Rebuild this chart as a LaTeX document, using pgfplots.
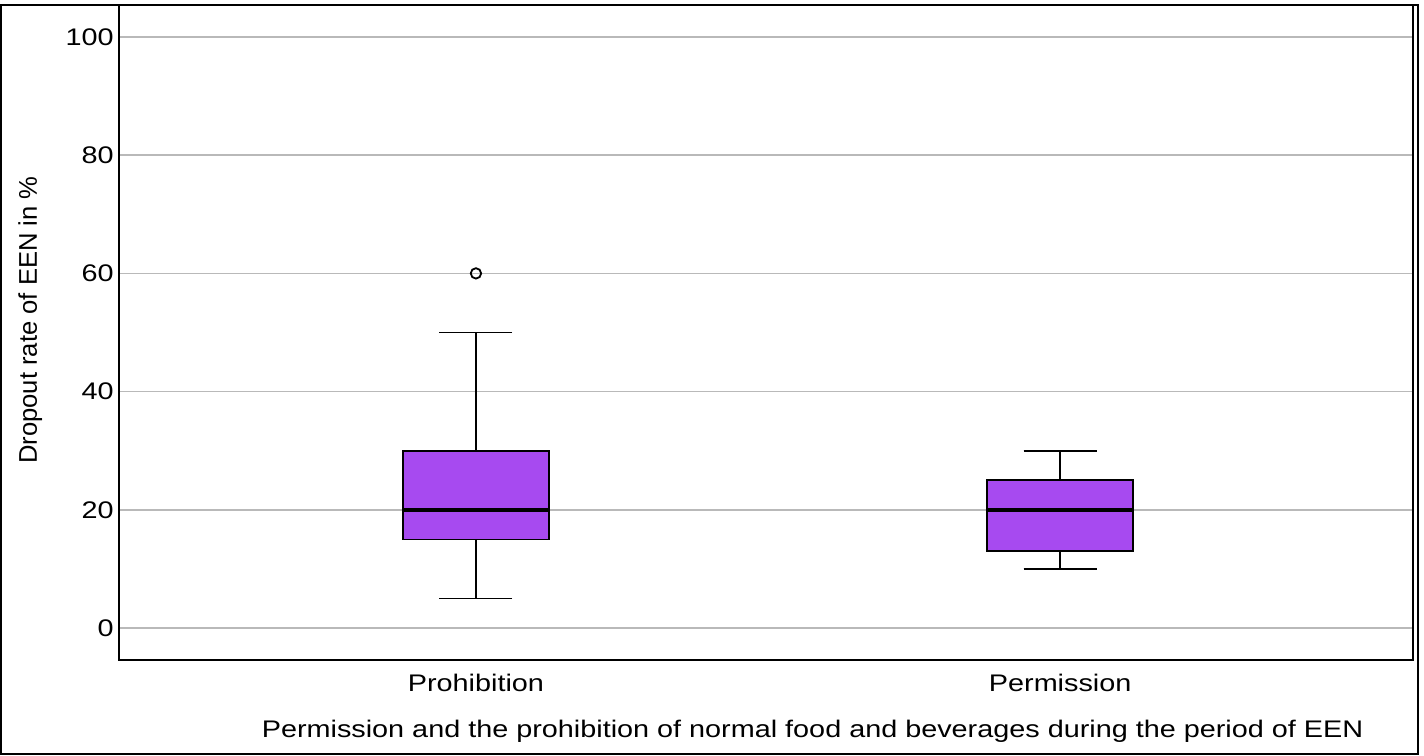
\documentclass[border=0pt]{standalone}
\usepackage{fontspec}
\setmainfont[FakeStretch=1.2]{Liberation Sans}
\newfontfamily\plainsans{Liberation Sans}
\usepackage{pgfplots}
\pgfplotsset{compat=1.18}
\usepgfplotslibrary{statistics}

\definecolor{boxfill}{RGB}{167,74,240}
\definecolor{gridgray}{RGB}{185,185,185}

\begin{document}
\fontsize{12}{14.4}\selectfont
\begin{tikzpicture}
\useasboundingbox (-59.5pt,-47.5pt) rectangle (652.5pt,330pt);
\draw[line width=0.9pt] (-59pt,-47pt) rectangle (649.5pt,327.5pt);
\begin{axis}[
    at={(0pt,0pt)}, anchor=south west,
    scale only axis,
    width=647pt, height=327.5pt,
    xmin=0.389, xmax=2.604,
    ymin=-5.41, ymax=105.41,
    axis line style={line width=0.7pt},
    ytick={0,20,40,60,80,100},
    xtick={1,2},
    xticklabels={Prohibition, Permission},
    major tick length=0pt,
    ymajorgrids,
    grid style={gridgray, line width=0.7pt},
    /pgf/number format/assume math mode=true,
    yticklabel style={font=\fontsize{12}{14.4}\selectfont, xshift=1.5pt},
    xticklabel style={font=\fontsize{12}{14.4}\selectfont, yshift=-3pt},
    ylabel={Dropout rate of EEN in \%},
    ylabel style={at={(axis description cs:-0.0685,0.519)}, anchor=center, font=\plainsans\fontsize{12.8}{15}\selectfont},
    xlabel={Permission and the prohibition of normal food and beverages during the period of EEN},
    xlabel style={at={(axis description cs:0.536,-0.1085)}, anchor=center, font=\fontsize{12}{14.4}\selectfont},
    boxplot/draw direction=y,
]
\addplot[boxplot prepared={median=20, upper quartile=30, lower quartile=15,
    upper whisker=50, lower whisker=5, draw position=1,
    box extend=0.25, whisker extend=0.125,
    every median/.style={line width=1.8pt}},
    draw=black, line width=0.8pt, fill=boxfill,
    mark=o, mark size=2.6pt, mark options={fill=none, line width=0.9pt}]
    table[row sep=\\, y index=0] {data\\ 60\\};
\addplot[boxplot prepared={median=20, upper quartile=25, lower quartile=13,
    upper whisker=30, lower whisker=10, draw position=2,
    box extend=0.25, whisker extend=0.125,
    every median/.style={line width=1.8pt}},
    draw=black, line width=0.8pt, fill=boxfill]
    coordinates {};
\end{axis}
\end{tikzpicture}
\end{document}
